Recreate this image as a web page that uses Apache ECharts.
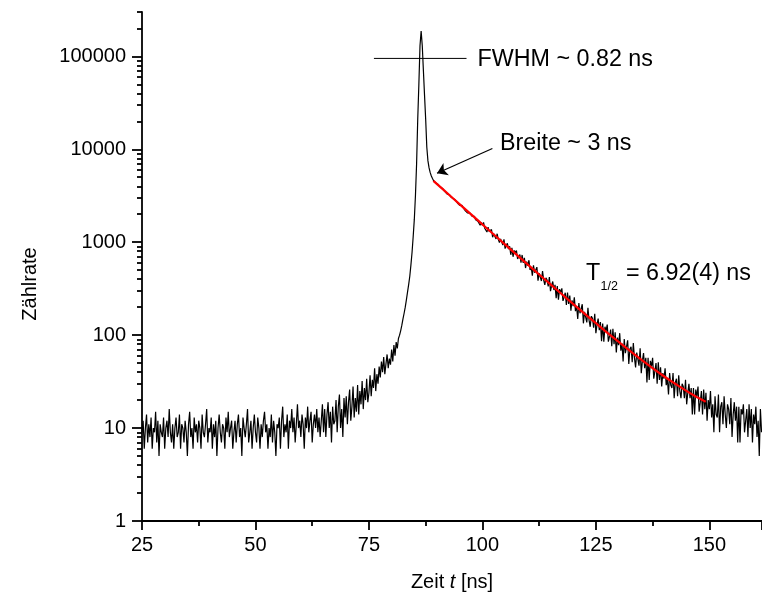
<!DOCTYPE html>
<html><head><meta charset="utf-8">
<script src="https://cdn.jsdelivr.net/npm/echarts@6/dist/echarts.min.js"></script>
<style>html,body{margin:0;padding:0;background:#fff}#chart{width:762px;height:594px}</style>
</head><body><div id="chart"></div>
<script>
// sampling grid of the measured spectrum
const timeStart = 25;
const timeStep = 0.25;
const counts = [
9,12,6,10,14,7,11,8,13,6,
10,9,15,7,12,5,11,9,8,13,
6,10,12,8,16,9,7,11,6,10,
13,8,9,14,6,11,10,7,12,9,
5,11,15,8,10,6,13,9,11,7,
12,10,6,14,9,8,11,16,7,10,
9,13,6,11,8,12,5,10,14,9,
7,11,10,6,13,9,15,8,10,12,
6,9,12,7,11,14,8,10,5,13,
10,8,11,16,7,9,12,6,10,14,
9,7,13,10,6,11,8,12,15,9,
11,6,10,8,14,7,12,9,5,11,
10,13,6,12,17,8,11,9,14,6,
12,10,16,9,13,7,11,18,10,12,
8,14,11,6,13,10,17,9,12,15,
7,11,14,10,16,9,13,8,12,18,
9,16,8,14,19,10,15,7,17,11,
12,20,9,17,23,10,16,8,21,13,
22,11,19,26,12,17,28,13,21,15,
29,14,25,18,32,16,27,20,34,19,
24,37,22,33,27,44,25,38,30,46,
35,52,40,58,38,49,62,44,56,48,
70,52,78,60,84,72,92,100,112,128,
150,172,200,240,290,350,430,570,780,1150,1770,3200,7000,21000,50000,130000,187000,130000,70000,38000,21000,10500,7500,6300,5600,5150,4850,
4588,4382,4344,4200,4169,3981,3916,3758,3760,3613,
3506,3522,3292,3301,3243,3077,3123,2956,2847,2854,
2777,2643,2706,2486,2495,2493,2348,2354,2178,2247,
2061,2133,2052,2064,1891,1886,1898,1745,1828,1683,
1758,1524,1633,1526,1630,1415,1454,1287,1451,1302,
1252,1371,1131,1234,1237,1083,1233,1073,994,1082,
1041,932,1072,853,920,972,843,904,732,870,
697,815,764,815,659,690,737,602,729,598,
678,527,618,556,640,503,541,437,563,470,
450,539,386,465,476,382,490,392,348,413,
392,334,422,297,342,378,306,347,250,337,
240,313,287,319,234,256,286,211,287,217,
266,183,237,205,255,181,205,149,222,172,
164,215,134,178,186,137,197,145,123,160,
152,120,170,105,130,151,113,138,86,133,
85,123,111,130,85,97,115,76,117,80,
107,65,94,78,105,68,81,52,91,64,
62,88,49,71,75,51,82,57,45,65,
62,47,72,39,53,64,44,57,31,57,
33,53,46,57,34,41,50,30,51,33,
45,28,39,34,44,29,34,23,39,29,
27,39,21,31,34,22,37,25,21,30,
28,21,33,18,24,30,21,27,14,27,
14,26,22,28,15,19,25,14,26,16,
24,12,20,16,25,13,18,9,22,14,
13,23,9,17,19,11,22,14,10,18,
16,11,21,8,14,19,12,17,7,17,
7,16,14,18,9,12,16,8,18,10,
16,7,14,11,17,8,12,5,16,9
];
// exponential fit (red)
const fitTimes = [89.2,91.2,93.2,95.2,97.2,99.2,101.2,103.2,105.2,107.2,109.2,111.2,113.2,115.2,117.2,119.2,121.2,123.2,125.2,127.2,129.2,131.2,133.2,135.2,137.2,139.2,141.2,143.2,145.2,147.2,149.2];
const fitCounts = [4570,3742,3064,2509,2055,1683,1379,1130,926,759,623,511,420,345,284,234,193,159,132,109,91,76,63.5,53.4,45.2,38.4,32.9,28.4,24.7,21.6,19.2];
const yTickLabels = ['1','10','100','1000','10000','100000'];
const yMaxCount = 300000;
const fwhmTimes = [76.1, 96.5];
const fwhmLevel = 95000;
const arrowFrom = [102.2, 10200];
const arrowTo = [90.0, 5530];

const FONT = '"Liberation Sans", Arial, sans-serif';
const dataPairs = counts.map((v, i) => [timeStart + i * timeStep, v]);
const fitPairs = fitTimes.map((t, i) => [t, fitCounts[i]]);
const logMax = Math.log10(yMaxCount);
const majorPos = yTickLabels.map((_, i) => i);
const minorPos = [];
for (let k = 0; k < yTickLabels.length; k++) {
  for (let m = 2; m <= 9; m++) {
    const p = k + Math.log10(m);
    if (p <= logMax + 1e-9) minorPos.push(p);
  }
}
const axisStyle = { color: '#000', width: 1.8 };

const chart = echarts.init(document.getElementById('chart'), null, { renderer: 'canvas' });
chart.setOption({
  animation: false,
  backgroundColor: '#fff',
  grid: { left: 142, right: 0, top: 12, bottom: 73, containLabel: false, outerBoundsMode: 'none' },
  xAxis: {
    type: 'value', min: 25, max: 161.6, interval: 25,
    axisLine: { onZero: false, lineStyle: axisStyle },
    axisTick: { inside: false, length: 9, lineStyle: axisStyle },
    minorTick: { show: true, splitNumber: 2, length: 5, lineStyle: axisStyle },
    splitLine: { show: false }, minorSplitLine: { show: false },
    axisLabel: { color: '#000', fontSize: 20, fontFamily: FONT, margin: 14, showMaxLabel: false },
    name: '{n|Zeit }{i|t}{n| [ns]}', nameLocation: 'middle', nameGap: 51,
    nameTextStyle: { rich: {
      n: { fontSize: 20, fontFamily: FONT, color: '#000' },
      i: { fontSize: 20, fontFamily: FONT, color: '#000', fontStyle: 'italic' }
    } }
  },
  yAxis: [
    { type: 'log', logBase: 10, min: 1, max: yMaxCount, position: 'left', show: false,
      axisLine: { onZero: false }, splitLine: { show: false } },
    { type: 'value', min: 0, max: logMax, interval: 1, position: 'left',
      axisLine: { show: true, onZero: false, lineStyle: axisStyle },
      axisTick: { show: true, inside: false, length: 10, customValues: majorPos, lineStyle: axisStyle },
      axisLabel: { color: '#000', fontSize: 20, fontFamily: FONT, margin: 16, customValues: majorPos,
        formatter: v => { const i = Math.round(v); return (Math.abs(v - i) < 1e-6 && yTickLabels[i]) ? yTickLabels[i] : ''; } },
      splitLine: { show: false } },
    { type: 'value', min: 0, max: logMax, position: 'left',
      axisLine: { show: false, onZero: false },
      axisTick: { show: true, inside: false, length: 5, customValues: minorPos, lineStyle: axisStyle },
      axisLabel: { show: false }, splitLine: { show: false } }
  ],
  series: [
    { type: 'line', xAxisIndex: 0, yAxisIndex: 0, data: dataPairs, symbol: 'none', showSymbol: false,
      lineStyle: { color: '#000', width: 1.2 }, silent: true, z: 2 },
    { type: 'line', xAxisIndex: 0, yAxisIndex: 0, data: fitPairs, symbol: 'none', showSymbol: false,
      lineStyle: { color: '#ff0000', width: 2.2 }, silent: true, z: 3 },
    { type: 'line', xAxisIndex: 0, yAxisIndex: 0,
      data: [[fwhmTimes[0], fwhmLevel], [fwhmTimes[1], fwhmLevel]], symbol: 'none', showSymbol: false,
      lineStyle: { color: '#000', width: 1 }, silent: true, z: 4,
      markLine: { silent: true, symbol: ['none', 'arrow'], symbolSize: 10, animation: false,
        label: { show: false },
        lineStyle: { color: '#000', width: 1.2, type: 'solid' },
        data: [[{ coord: arrowFrom }, { coord: arrowTo }]] } }
  ],
  graphic: [
    { type: 'text', x: 30, y: 284, rotation: Math.PI / 2, silent: true,
      style: { text: 'Zählrate', fontSize: 20, fontFamily: FONT, fill: '#000', align: 'center', verticalAlign: 'middle' } },
    { type: 'text', x: 477.5, y: 59.2, silent: true,
      style: { text: 'FWHM ~ 0.82 ns', fontSize: 23.3, fontFamily: FONT, fill: '#000', align: 'left', verticalAlign: 'middle' } },
    { type: 'text', x: 500, y: 143.8, silent: true,
      style: { text: 'Breite ~ 3 ns', fontSize: 23.3, fontFamily: FONT, fill: '#000', align: 'left', verticalAlign: 'middle' } },
    { type: 'text', x: 586, y: 273.4, silent: true,
      style: { text: 'T', fontSize: 23.3, fontFamily: FONT, fill: '#000', align: 'left', verticalAlign: 'middle' } },
    { type: 'text', x: 600.5, y: 286.5, silent: true,
      style: { text: '1/2', fontSize: 12.5, fontFamily: FONT, fill: '#000', align: 'left', verticalAlign: 'middle' } },
    { type: 'text', x: 626, y: 273.4, silent: true,
      style: { text: '= 6.92(4) ns', fontSize: 23.3, fontFamily: FONT, fill: '#000', align: 'left', verticalAlign: 'middle' } }
  ]
});
</script></body></html>
